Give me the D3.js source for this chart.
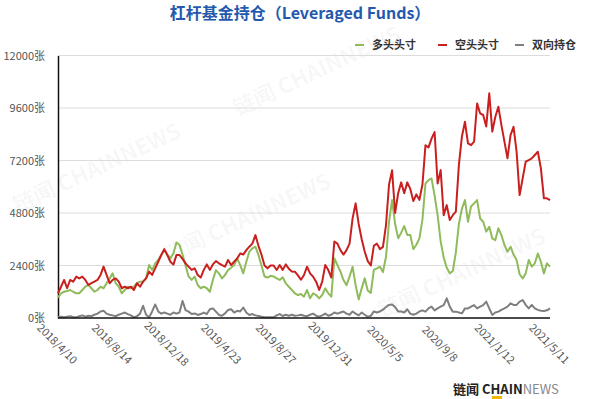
<!DOCTYPE html>
<html>
<head>
<meta charset="utf-8">
<script src="https://cdn.jsdelivr.net/npm/d3@7/dist/d3.min.js"></script>
<style>
  body { margin: 0; background: #fff; }
  svg { display: block; font-family: "Noto Sans CJK SC", "Noto Sans", sans-serif; }
</style>
</head>
<body>
<div id="chart"></div>
<script>
// weekly positions, 2018/4/10 .. 2021/5/11
const longPos = [
  930, 1130, 1200, 1230, 1280, 1200, 1130, 1130, 1280, 1430, 1510, 1360, 1200, 1280, 1430, 1360, 1590, 1810, 2040, 1590,
  1430, 1130, 1280, 1430, 1360, 1430, 1590, 1660, 1660, 1810, 2420, 2190, 2500, 2650, 2880, 3110, 2880, 2730, 2950, 3450,
  3350, 2900, 2400, 1900, 1740, 1890, 1510, 1360, 1430, 1360, 1200, 1740, 2190, 2040, 1810, 1965, 2190, 2300, 2420, 2727,
  2420, 2041, 2574, 3031, 3183, 3260, 2880, 2400, 1900, 1850, 1930, 1900, 1810, 1740, 1860, 1580, 1430, 1280, 1130, 1050,
  1100, 975, 1280, 899, 1127, 1051, 899, 1051, 1356, 1127, 975, 2727, 2422, 2117, 1737, 1500, 1890, 2346, 1500, 850,
  1356, 1813, 1250, 1150, 2200, 2270, 2346, 2100, 2800, 4400, 5393, 4300, 3650, 3900, 4200, 3800, 3800, 3150, 3350, 3640,
  4500, 6150, 6300, 6380, 5600, 4700, 3500, 2760, 2300, 2040, 2150, 3000, 4300, 5000, 5390, 4400, 5100, 5240, 5390, 4550,
  4400, 3950, 4170, 3640, 3560, 4100, 3790, 3340, 3030, 3260, 2900, 2650, 2000, 1810, 2040, 2650, 2350, 2500, 2950, 2570,
  2040, 2500, 2350
];
const shortPos = [
  1130, 1430, 1740, 1360, 1740, 1660, 1890, 1810, 1890, 1740, 1510, 1590, 1660, 1740, 1970, 2350, 1970, 1590, 1740, 1810,
  1660, 1360, 1430, 1360, 1430, 1280, 1590, 1430, 1660, 1810, 2120, 1970, 2270, 2570, 2880, 3150, 2880, 2570, 2440, 2880,
  2880, 2700, 2500, 2350, 2200, 2270, 1965, 1850, 2200, 2450, 2200, 2450, 2600, 2500, 2420, 2350, 2650, 2420, 2570, 2720,
  2950, 2900, 3100, 3260, 3400, 3790, 3300, 2900, 2400, 2270, 2400, 2400, 2194, 2420, 2200, 2450, 2250, 2120, 2117, 1950,
  1750, 1965, 2346, 2041, 1889, 1661, 1280, 1661, 2422, 2194, 1850, 3500, 3400, 3100, 2900, 3100, 3400, 4555, 5240, 4300,
  3600, 3030, 2600, 2400, 3300, 3400, 3150, 3250, 4250, 6100, 6750, 4800, 5700, 6200, 5700, 6200, 5900, 5350, 5650, 5400,
  6100, 7900, 7800, 8200, 8500, 6150, 6760, 4700, 5160, 4480, 4700, 4860, 7000, 8300, 8970, 7980, 7900, 8060, 9810, 9350,
  9280, 8750, 10270, 8520, 9200, 9660, 8820, 8060, 7300, 8360, 8740, 7600, 5620, 6380, 7145, 7220, 7300, 7450, 7600, 6840,
  5470, 5470, 5390
];
const spreadPos = [
  50, 60, 30, 60, 80, 50, 30, 80, 120, 60, 100, 80, 150, 200, 300, 330, 200, 150, 120, 80,
  150, 200, 250, 180, 120, 30, 80, 200, 560, 150, 30, 300, 620, 300, 200, 250, 200, 150, 250, 200,
  250, 780, 360, 290, 180, 210, 140, 180, 250, 180, 400, 440, 290, 140, 100, 210, 365, 400, 250, 330,
  300, 480, 250, 140, 180, 120, 90, 60, 30, 30, 30, 30, 120, 180, 90, 150, 100, 150, 100, 120,
  150, 100, 80, 150, 200, 100, 60, 120, 200, 100, 150, 250, 200, 250, 300, 200, 150, 300, 200, 120,
  250, 150, 50, 100, 300, 250, 300, 380, 500, 600, 620, 500, 300, 300, 250, 400, 200, 150, 200, 300,
  350, 290, 440, 520, 350, 440, 520, 590, 900, 520, 290, 290, 250, 210, 440, 440, 520, 590, 440, 520,
  590, 750, 440, 140, 250, 290, 370, 440, 520, 670, 600, 600, 750, 820, 600, 440, 600, 440, 370, 330,
  320, 350, 440
];
const tickLabels = ['2018/4/10', '2018/8/14', '2018/12/18', '2019/4/23', '2019/8/27',
  '2019/12/31', '2020/5/5', '2020/9/8', '2021/1/12', '2021/5/11'];
const tickEvery = 18;
const yTicks = [0, 2400, 4800, 7200, 9600, 12000];
const seriesNames = ['多头头寸', '空头头寸', '双向持仓'];

const config = {
  width: 600,
  height: 399,
  margin: {top: 55.5, left: 58, right: 50, bottom: 81},
  colors: ['#8fbb5b', '#c9201f', '#7f7f7f'],
  grid: '#dcdcdc',
  text: '#555',
  title: '#2459ad'
};

const W = config.width, H = config.height, m = config.margin;
const n = longPos.length;

const svg = d3.select('#chart').append('svg')
  .attr('width', W).attr('height', H)
  .attr('viewBox', [0, 0, W, H]);

const x = d3.scaleLinear().domain([0, n - 1]).range([m.left, W - m.right]);
const y = d3.scaleLinear().domain([0, 12000]).range([H - m.bottom, m.top]);

// faint watermarks
const marks = [[100, 175], [250, 225], [320, 78], [465, 280]];
svg.append('g')
  .attr('fill', '#000').attr('fill-opacity', 0.045)
  .attr('font-size', 22).attr('font-weight', 700)
  .selectAll('text').data(marks).join('text')
  .attr('transform', d => `translate(${d[0]},${d[1]}) rotate(-25)`)
  .attr('text-anchor', 'middle')
  .text('链闻 CHAINNEWS');

// grid lines
svg.append('g')
  .selectAll('line').data(yTicks.slice(1)).join('line')
  .attr('x1', m.left).attr('x2', W - m.right)
  .attr('y1', d => y(d)).attr('y2', d => y(d))
  .attr('stroke', config.grid).attr('stroke-width', 1);

// y axis
const yAxis = d3.axisLeft(y).tickValues(yTicks).tickSize(0).tickPadding(13)
  .tickFormat(d => d + '张');
svg.append('g')
  .attr('transform', `translate(${m.left},0)`)
  .call(yAxis)
  .call(g => g.select('.domain').attr('stroke', '#111').attr('stroke-width', 1.5))
  .call(g => g.selectAll('text').attr('fill', config.text).attr('font-size', 11)
    .attr('font-family', '"Noto Sans CJK SC", sans-serif'));

// lines
const line = d3.line().x((d, i) => x(i)).y(d => y(d));
const series = [longPos, shortPos, spreadPos];
svg.append('g')
  .attr('fill', 'none')
  .attr('stroke-width', 2)
  .attr('stroke-linejoin', 'round')
  .selectAll('path').data([2, 0, 1]).join('path')
  .attr('stroke', k => config.colors[k])
  .attr('d', k => line(series[k]));

// x axis
const xTickVals = tickLabels.map((t, i) => i * tickEvery);
svg.append('line')
  .attr('x1', m.left).attr('x2', W - m.right)
  .attr('y1', y(0)).attr('y2', y(0))
  .attr('stroke', '#111').attr('stroke-width', 1.5);
svg.append('g')
  .selectAll('text').data(xTickVals).join('text')
  .attr('transform', d => `translate(${x(d)},${y(0) + 25}) rotate(45)`)
  .attr('text-anchor', 'middle')
  .attr('dominant-baseline', 'central')
  .attr('fill', config.text)
  .attr('font-size', 11)
  .text((d, i) => tickLabels[i]);

// title
svg.append('text')
  .attr('x', 300).attr('y', 19)
  .attr('text-anchor', 'middle')
  .attr('fill', config.title)
  .attr('font-size', 16).attr('font-weight', 700)
  .text('杠杆基金持仓（Leveraged Funds）');

// legend
const legendX = [355, 438, 515];
const lg = svg.append('g').selectAll('g').data(seriesNames).join('g')
  .attr('transform', (d, i) => `translate(${legendX[i]},45)`);
lg.append('line')
  .attr('x1', 0).attr('x2', 9)
  .attr('stroke', (d, i) => config.colors[i]).attr('stroke-width', 2);
lg.append('text')
  .attr('x', 17).attr('dy', '0.35em')
  .attr('fill', '#333').attr('font-size', 11).attr('font-weight', 700)
  .text(d => d);

// logo
const logo = svg.append('text')
  .attr('x', 453).attr('y', 394)
  .attr('font-size', 13).attr('font-weight', 700);
logo.append('tspan').attr('fill', '#222').text('链闻 CHAIN');
logo.append('tspan').attr('fill', '#888').attr('font-weight', 400).text('NEWS');
svg.append('rect').attr('x', 492).attr('y', 396).attr('width', 10).attr('height', 4).attr('fill', '#f2b705');
</script>
</body>
</html>
